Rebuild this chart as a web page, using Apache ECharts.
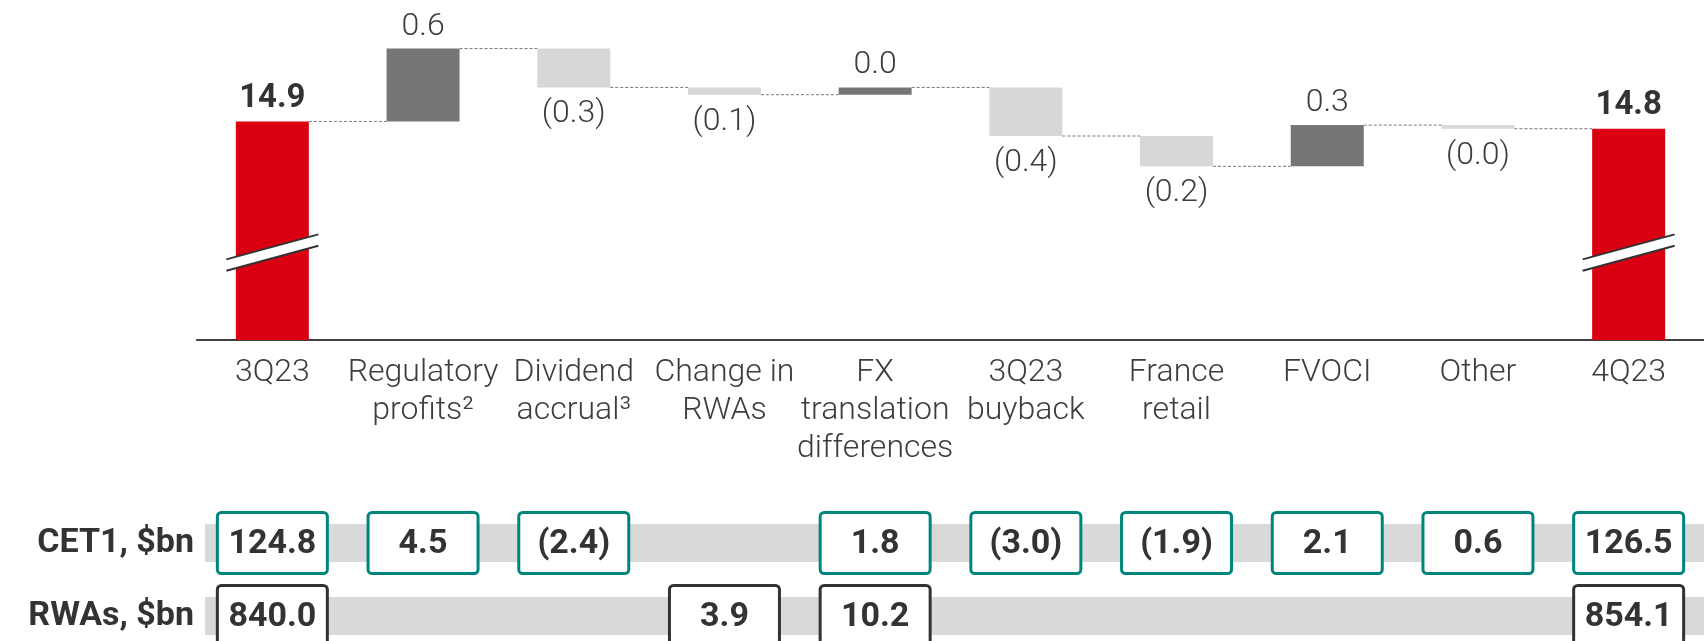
<!DOCTYPE html>
<html>
<head>
<meta charset="utf-8">
<script src="https://cdn.jsdelivr.net/npm/echarts@6/dist/echarts.min.js"></script>
<style>
  html, body { margin: 0; padding: 0; background: #fff; }
  #chart { width: 1704px; height: 641px; }
</style>
</head>
<body>
<div id="chart"></div>
<script>
const categories = [
  "3Q23",
  "Regulatory\nprofits²",
  "Dividend\naccrual³",
  "Change in\nRWAs",
  "FX\ntranslation\ndifferences",
  "3Q23\nbuyback",
  "France\nretail",
  "FVOCI",
  "Other",
  "4Q23",
];
// CET1 ratio %, first and last are totals, the rest are movements
const stepValues = [14.9, 0.6, -0.32, -0.06, 0.06, -0.4, -0.25, 0.34, -0.03, 14.84];
const stepLabels = ["14.9", "0.6", "(0.3)", "(0.1)", "0.0", "(0.4)", "(0.2)", "0.3", "(0.0)", "14.8"];
const totalIndex = [0, 9];
const breakLevel = 13.82;

const rowNames = ["CET1, $bn", "RWAs, $bn"];
const cet1Values = [124.8, 4.5, -2.4, null, 1.8, -3.0, -1.9, 2.1, 0.6, 126.5];
const rwaValues = [840.0, null, null, 3.9, 10.2, null, null, null, null, 854.1];

const RED = "#db0011";
const UP = "#767676";
const DOWN = "#d7d7d6";
const TEAL = "#00857d";
const TEXT = "#3d3d3d";
const FONT = "Roboto, sans-serif";
const BAR_W = 73;

// waterfall pieces
const baseData = [];
const barData = [];
const levels = [];
let level = 0;
stepValues.forEach((v, i) => {
  const isTotal = totalIndex.includes(i);
  let color, pos, dist, bold = false;
  if (isTotal) {
    level = v;
    baseData.push(0);
    barData.push(v);
    color = RED; pos = "top"; dist = 6; bold = true;
  } else {
    const next = level + v;
    baseData.push(Math.min(level, next));
    barData.push(Math.abs(v));
    level = next;
    if (v >= 0) { color = UP; pos = "top"; dist = 6; }
    else { color = DOWN; pos = "bottom"; dist = 11; }
  }
  levels.push(level);
  barData[i] = {
    value: barData[i],
    itemStyle: { color: color },
    label: {
      position: pos,
      distance: dist,
      fontWeight: bold ? "bold" : 300,
      fontSize: bold ? 33 : 32,
      color: bold ? "#333" : TEXT,
    },
  };
});

const connectorData = levels.slice(0, -1).map((l, i) => [i, l]);
const breakData = totalIndex.map((i) => [i, breakLevel]);

const boxData = [];
cet1Values.forEach((v, i) => { if (v !== null) boxData.push([i, 0, v]); });
rwaValues.forEach((v, i) => { if (v !== null) boxData.push([i, 1, v]); });

function fmt(v) {
  return v < 0 ? "(" + Math.abs(v).toFixed(1) + ")" : v.toFixed(1);
}

const chart = echarts.init(document.getElementById("chart"));
chart.setOption({
  animation: false,
  grid: [
    { left: 197, top: 0, width: 1514, height: 340 },
    { left: 197, top: 543, width: 1514, height: 73 },
  ],
  xAxis: [
    {
      type: "category",
      gridIndex: 0,
      data: categories,
      axisLine: { lineStyle: { color: "#404040", width: 2 } },
      axisTick: { show: false },
      axisLabel: {
        interval: 0,
        margin: 14,
        fontSize: 32,
        lineHeight: 38,
        fontWeight: 300,
        fontFamily: FONT,
        color: TEXT,
      },
    },
    {
      type: "category",
      gridIndex: 1,
      data: categories,
      show: false,
    },
  ],
  yAxis: [
    { type: "value", gridIndex: 0, min: 13.1, max: 15.9, show: false },
    {
      type: "category",
      gridIndex: 1,
      data: rowNames,
      inverse: true,
      boundaryGap: false,
      axisLine: { show: false },
      axisTick: { show: false },
      splitLine: { show: false },
      axisLabel: {
        margin: 3,
        fontSize: 34,
        fontWeight: "bold",
        fontFamily: FONT,
        color: "#333",
      },
    },
  ],
  series: [
    {
      type: "bar",
      stack: "wf",
      data: baseData,
      barWidth: BAR_W,
      itemStyle: { color: "transparent" },
      silent: true,
      clip: true,
    },
    {
      type: "bar",
      stack: "wf",
      data: barData,
      barWidth: BAR_W,
      clip: true,
      label: {
        show: true,
        fontFamily: FONT,
        formatter: (p) => stepLabels[p.dataIndex],
      },
    },
    {
      type: "custom",
      data: connectorData,
      silent: true,
      z: 3,
      renderItem: (params, api) => {
        const i = api.value(0);
        const a = api.coord([i, api.value(1)]);
        const b = api.coord([i + 1, api.value(1)]);
        return {
          type: "line",
          shape: { x1: a[0] + BAR_W / 2, y1: a[1], x2: b[0] - BAR_W / 2, y2: b[1] },
          style: { stroke: "#777", lineWidth: 1, lineDash: [3, 2] },
        };
      },
    },
    {
      type: "custom",
      data: breakData,
      silent: true,
      z: 4,
      renderItem: (params, api) => {
        const c = api.coord([api.value(0), api.value(1)]);
        const x = c[0], y = c[1];
        const hw = 46, dy = 12.5, g = 5.7;
        return {
          type: "group",
          children: [
            {
              type: "polygon",
              shape: { points: [[x - hw, y + dy - g], [x + hw, y - dy - g], [x + hw, y - dy + g], [x - hw, y + dy + g]] },
              style: { fill: "#fff" },
            },
            {
              type: "line",
              shape: { x1: x - hw, y1: y + dy - g, x2: x + hw, y2: y - dy - g },
              style: { stroke: "#333", lineWidth: 2 },
            },
            {
              type: "line",
              shape: { x1: x - hw, y1: y + dy + g, x2: x + hw, y2: y - dy + g },
              style: { stroke: "#333", lineWidth: 2 },
            },
          ],
        };
      },
    },
    {
      type: "custom",
      xAxisIndex: 1,
      yAxisIndex: 1,
      data: [[0, 0], [0, 1]],
      silent: true,
      z: 1,
      clip: false,
      renderItem: (params, api) => {
        const c = api.coord([0, api.value(1)]);
        const cs = params.coordSys;
        return {
          type: "rect",
          shape: { x: cs.x + 8, y: c[1] - 19, width: cs.width, height: 38 },
          style: { fill: "#d9d9d9" },
        };
      },
    },
    {
      type: "custom",
      xAxisIndex: 1,
      yAxisIndex: 1,
      data: boxData,
      silent: true,
      z: 2,
      clip: false,
      renderItem: (params, api) => {
        const c = api.coord([api.value(0), api.value(1)]);
        const row = api.value(1);
        return {
          type: "group",
          children: [
            {
              type: "rect",
              shape: { x: c[0] - 55, y: c[1] - 30.5, width: 110, height: 61, r: 4 },
              style: { fill: "#fff", stroke: row === 0 ? TEAL : "#333", lineWidth: 3 },
            },
            {
              type: "text",
              x: c[0],
              y: c[1] + 1,
              style: {
                text: fmt(api.value(2)),
                align: "center",
                verticalAlign: "middle",
                fontSize: 34,
                fontWeight: "bold",
                fontFamily: FONT,
                fill: "#333",
              },
            },
          ],
        };
      },
    },
  ],
});
</script>
</body>
</html>
